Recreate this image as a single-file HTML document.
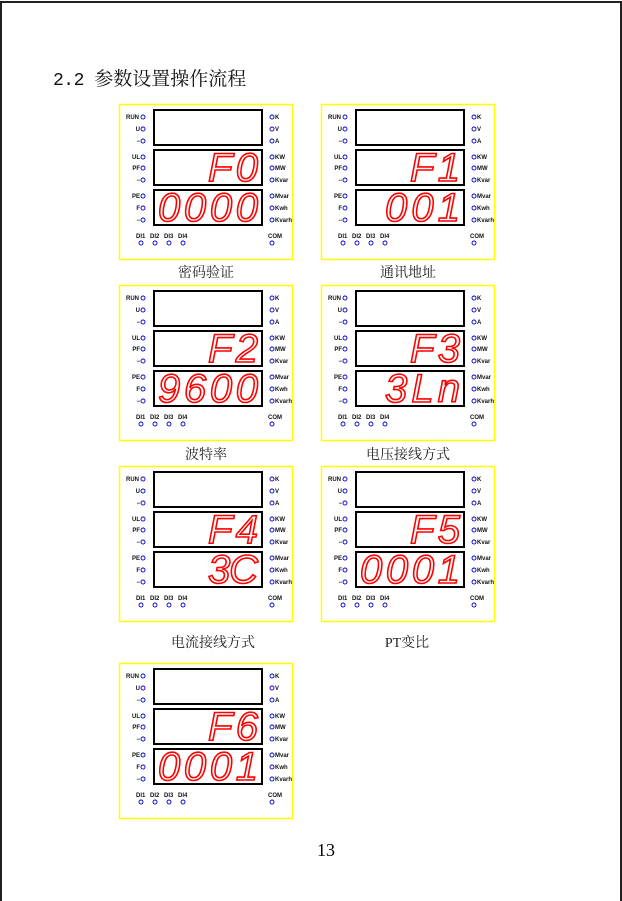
<!DOCTYPE html>
<html><head><meta charset="utf-8"><style>
html,body{margin:0;padding:0;background:#fff;width:622px;height:901px;overflow:hidden;}
body{position:relative;}
.frame{position:absolute;left:0;top:1px;width:618px;height:900px;border:2px solid #222;border-bottom:none;}
.title{position:absolute;left:53px;top:64px;font:19px "Liberation Serif","Noto Serif CJK SC",serif;color:#111;}
.title span{font-family:"Liberation Mono",monospace;font-size:18px;letter-spacing:-0.5px;}
.cap{position:absolute;width:180px;text-align:center;font:14px "Liberation Serif","Noto Serif CJK SC",serif;color:#222;}
svg.p{position:absolute;width:176px;height:158px;}
svg text{font-family:"Liberation Sans",sans-serif;}
.l{font-size:6px;font-weight:bold;fill:#111;}
.d{font-family:"Liberation Sans",sans-serif;font-size:40px;fill:none;stroke:#f00;stroke-width:1.6;font-style:italic;}
.pg{position:absolute;left:317px;top:840px;font:18px "Liberation Serif",serif;}
</style></head><body>
<div class="frame"></div>
<div class="title"><span>2.2 </span>参数设置操作流程</div>

<svg class="p" style="left:118px;top:103px" viewBox="0 0 176 158">
<rect x="1.5" y="1.5" width="173" height="155" fill="none" stroke="#ff0" stroke-width="1.5"/>
<rect x="36" y="7" width="108" height="35" fill="none" stroke="#000" stroke-width="2"/>
<rect x="36" y="47" width="108" height="35" fill="none" stroke="#000" stroke-width="2"/>
<rect x="36" y="87" width="108" height="35" fill="none" stroke="#000" stroke-width="2"/>
<g fill="none" stroke="#00c" stroke-width="0.9"><circle cx="25" cy="14" r="2"/><circle cx="25" cy="26" r="2"/><circle cx="25" cy="38" r="2"/><circle cx="25" cy="54" r="2"/><circle cx="25" cy="65" r="2"/><circle cx="25" cy="77" r="2"/><circle cx="25" cy="93" r="2"/><circle cx="25" cy="105" r="2"/><circle cx="25" cy="117" r="2"/><circle cx="154" cy="14" r="2"/><circle cx="154" cy="26" r="2"/><circle cx="154" cy="38" r="2"/><circle cx="154" cy="54" r="2"/><circle cx="154" cy="65" r="2"/><circle cx="154" cy="77" r="2"/><circle cx="154" cy="93" r="2"/><circle cx="154" cy="105" r="2"/><circle cx="154" cy="117" r="2"/><circle cx="23" cy="140" r="2"/><circle cx="37" cy="140" r="2"/><circle cx="51" cy="140" r="2"/><circle cx="65" cy="140" r="2"/><circle cx="154" cy="140" r="2"/></g>
<g class="l" text-anchor="end"><text x="21" y="16">RUN</text><text x="22" y="28">U</text><text x="22" y="40">−</text><text x="22" y="56">UL</text><text x="22" y="67">PF</text><text x="22" y="79">−</text><text x="22" y="95">PE</text><text x="22" y="107">F</text><text x="22" y="119">−</text></g>
<g class="l"><text x="157" y="16">K</text><text x="157" y="28">V</text><text x="157" y="40">A</text><text x="157" y="56">KW</text><text x="157" y="67">MW</text><text x="157" y="79">Kvar</text><text x="157" y="95">Mvar</text><text x="157" y="107">Kwh</text><text x="157" y="119">Kvarh</text><text x="18" y="135">DI1</text><text x="32" y="135">DI2</text><text x="46" y="135">DI3</text><text x="60" y="135">DI4</text><text x="150" y="135">COM</text></g>
<text class="d" x="140" y="78" text-anchor="end" textLength="50" lengthAdjust="spacing">F0</text>
<text class="d" x="140" y="118" text-anchor="end" textLength="100" lengthAdjust="spacing">0000</text>
</svg>
<div class="cap" style="left:116px;top:262px">密码验证</div>

<svg class="p" style="left:320px;top:103px" viewBox="0 0 176 158">
<rect x="1.5" y="1.5" width="173" height="155" fill="none" stroke="#ff0" stroke-width="1.5"/>
<rect x="36" y="7" width="108" height="35" fill="none" stroke="#000" stroke-width="2"/>
<rect x="36" y="47" width="108" height="35" fill="none" stroke="#000" stroke-width="2"/>
<rect x="36" y="87" width="108" height="35" fill="none" stroke="#000" stroke-width="2"/>
<g fill="none" stroke="#00c" stroke-width="0.9"><circle cx="25" cy="14" r="2"/><circle cx="25" cy="26" r="2"/><circle cx="25" cy="38" r="2"/><circle cx="25" cy="54" r="2"/><circle cx="25" cy="65" r="2"/><circle cx="25" cy="77" r="2"/><circle cx="25" cy="93" r="2"/><circle cx="25" cy="105" r="2"/><circle cx="25" cy="117" r="2"/><circle cx="154" cy="14" r="2"/><circle cx="154" cy="26" r="2"/><circle cx="154" cy="38" r="2"/><circle cx="154" cy="54" r="2"/><circle cx="154" cy="65" r="2"/><circle cx="154" cy="77" r="2"/><circle cx="154" cy="93" r="2"/><circle cx="154" cy="105" r="2"/><circle cx="154" cy="117" r="2"/><circle cx="23" cy="140" r="2"/><circle cx="37" cy="140" r="2"/><circle cx="51" cy="140" r="2"/><circle cx="65" cy="140" r="2"/><circle cx="154" cy="140" r="2"/></g>
<g class="l" text-anchor="end"><text x="21" y="16">RUN</text><text x="22" y="28">U</text><text x="22" y="40">−</text><text x="22" y="56">UL</text><text x="22" y="67">PF</text><text x="22" y="79">−</text><text x="22" y="95">PE</text><text x="22" y="107">F</text><text x="22" y="119">−</text></g>
<g class="l"><text x="157" y="16">K</text><text x="157" y="28">V</text><text x="157" y="40">A</text><text x="157" y="56">KW</text><text x="157" y="67">MW</text><text x="157" y="79">Kvar</text><text x="157" y="95">Mvar</text><text x="157" y="107">Kwh</text><text x="157" y="119">Kvarh</text><text x="18" y="135">DI1</text><text x="32" y="135">DI2</text><text x="46" y="135">DI3</text><text x="60" y="135">DI4</text><text x="150" y="135">COM</text></g>
<text class="d" x="140" y="78" text-anchor="end" textLength="50" lengthAdjust="spacing">F1</text>
<text class="d" x="140" y="118" text-anchor="end" textLength="75" lengthAdjust="spacing">001</text>
</svg>
<div class="cap" style="left:318px;top:262px">通讯地址</div>

<svg class="p" style="left:118px;top:284px" viewBox="0 0 176 158">
<rect x="1.5" y="1.5" width="173" height="155" fill="none" stroke="#ff0" stroke-width="1.5"/>
<rect x="36" y="7" width="108" height="35" fill="none" stroke="#000" stroke-width="2"/>
<rect x="36" y="47" width="108" height="35" fill="none" stroke="#000" stroke-width="2"/>
<rect x="36" y="87" width="108" height="35" fill="none" stroke="#000" stroke-width="2"/>
<g fill="none" stroke="#00c" stroke-width="0.9"><circle cx="25" cy="14" r="2"/><circle cx="25" cy="26" r="2"/><circle cx="25" cy="38" r="2"/><circle cx="25" cy="54" r="2"/><circle cx="25" cy="65" r="2"/><circle cx="25" cy="77" r="2"/><circle cx="25" cy="93" r="2"/><circle cx="25" cy="105" r="2"/><circle cx="25" cy="117" r="2"/><circle cx="154" cy="14" r="2"/><circle cx="154" cy="26" r="2"/><circle cx="154" cy="38" r="2"/><circle cx="154" cy="54" r="2"/><circle cx="154" cy="65" r="2"/><circle cx="154" cy="77" r="2"/><circle cx="154" cy="93" r="2"/><circle cx="154" cy="105" r="2"/><circle cx="154" cy="117" r="2"/><circle cx="23" cy="140" r="2"/><circle cx="37" cy="140" r="2"/><circle cx="51" cy="140" r="2"/><circle cx="65" cy="140" r="2"/><circle cx="154" cy="140" r="2"/></g>
<g class="l" text-anchor="end"><text x="21" y="16">RUN</text><text x="22" y="28">U</text><text x="22" y="40">−</text><text x="22" y="56">UL</text><text x="22" y="67">PF</text><text x="22" y="79">−</text><text x="22" y="95">PE</text><text x="22" y="107">F</text><text x="22" y="119">−</text></g>
<g class="l"><text x="157" y="16">K</text><text x="157" y="28">V</text><text x="157" y="40">A</text><text x="157" y="56">KW</text><text x="157" y="67">MW</text><text x="157" y="79">Kvar</text><text x="157" y="95">Mvar</text><text x="157" y="107">Kwh</text><text x="157" y="119">Kvarh</text><text x="18" y="135">DI1</text><text x="32" y="135">DI2</text><text x="46" y="135">DI3</text><text x="60" y="135">DI4</text><text x="150" y="135">COM</text></g>
<text class="d" x="140" y="78" text-anchor="end" textLength="50" lengthAdjust="spacing">F2</text>
<text class="d" x="140" y="118" text-anchor="end" textLength="100" lengthAdjust="spacing">9600</text>
</svg>
<div class="cap" style="left:116px;top:444px">波特率</div>

<svg class="p" style="left:320px;top:284px" viewBox="0 0 176 158">
<rect x="1.5" y="1.5" width="173" height="155" fill="none" stroke="#ff0" stroke-width="1.5"/>
<rect x="36" y="7" width="108" height="35" fill="none" stroke="#000" stroke-width="2"/>
<rect x="36" y="47" width="108" height="35" fill="none" stroke="#000" stroke-width="2"/>
<rect x="36" y="87" width="108" height="35" fill="none" stroke="#000" stroke-width="2"/>
<g fill="none" stroke="#00c" stroke-width="0.9"><circle cx="25" cy="14" r="2"/><circle cx="25" cy="26" r="2"/><circle cx="25" cy="38" r="2"/><circle cx="25" cy="54" r="2"/><circle cx="25" cy="65" r="2"/><circle cx="25" cy="77" r="2"/><circle cx="25" cy="93" r="2"/><circle cx="25" cy="105" r="2"/><circle cx="25" cy="117" r="2"/><circle cx="154" cy="14" r="2"/><circle cx="154" cy="26" r="2"/><circle cx="154" cy="38" r="2"/><circle cx="154" cy="54" r="2"/><circle cx="154" cy="65" r="2"/><circle cx="154" cy="77" r="2"/><circle cx="154" cy="93" r="2"/><circle cx="154" cy="105" r="2"/><circle cx="154" cy="117" r="2"/><circle cx="23" cy="140" r="2"/><circle cx="37" cy="140" r="2"/><circle cx="51" cy="140" r="2"/><circle cx="65" cy="140" r="2"/><circle cx="154" cy="140" r="2"/></g>
<g class="l" text-anchor="end"><text x="21" y="16">RUN</text><text x="22" y="28">U</text><text x="22" y="40">−</text><text x="22" y="56">UL</text><text x="22" y="67">PF</text><text x="22" y="79">−</text><text x="22" y="95">PE</text><text x="22" y="107">F</text><text x="22" y="119">−</text></g>
<g class="l"><text x="157" y="16">K</text><text x="157" y="28">V</text><text x="157" y="40">A</text><text x="157" y="56">KW</text><text x="157" y="67">MW</text><text x="157" y="79">Kvar</text><text x="157" y="95">Mvar</text><text x="157" y="107">Kwh</text><text x="157" y="119">Kvarh</text><text x="18" y="135">DI1</text><text x="32" y="135">DI2</text><text x="46" y="135">DI3</text><text x="60" y="135">DI4</text><text x="150" y="135">COM</text></g>
<text class="d" x="140" y="78" text-anchor="end" textLength="50" lengthAdjust="spacing">F3</text>
<text class="d" x="140" y="118" text-anchor="end" textLength="75" lengthAdjust="spacing">3Ln</text>
</svg>
<div class="cap" style="left:318px;top:444px">电压接线方式</div>

<svg class="p" style="left:118px;top:465px" viewBox="0 0 176 158">
<rect x="1.5" y="1.5" width="173" height="155" fill="none" stroke="#ff0" stroke-width="1.5"/>
<rect x="36" y="7" width="108" height="35" fill="none" stroke="#000" stroke-width="2"/>
<rect x="36" y="47" width="108" height="35" fill="none" stroke="#000" stroke-width="2"/>
<rect x="36" y="87" width="108" height="35" fill="none" stroke="#000" stroke-width="2"/>
<g fill="none" stroke="#00c" stroke-width="0.9"><circle cx="25" cy="14" r="2"/><circle cx="25" cy="26" r="2"/><circle cx="25" cy="38" r="2"/><circle cx="25" cy="54" r="2"/><circle cx="25" cy="65" r="2"/><circle cx="25" cy="77" r="2"/><circle cx="25" cy="93" r="2"/><circle cx="25" cy="105" r="2"/><circle cx="25" cy="117" r="2"/><circle cx="154" cy="14" r="2"/><circle cx="154" cy="26" r="2"/><circle cx="154" cy="38" r="2"/><circle cx="154" cy="54" r="2"/><circle cx="154" cy="65" r="2"/><circle cx="154" cy="77" r="2"/><circle cx="154" cy="93" r="2"/><circle cx="154" cy="105" r="2"/><circle cx="154" cy="117" r="2"/><circle cx="23" cy="140" r="2"/><circle cx="37" cy="140" r="2"/><circle cx="51" cy="140" r="2"/><circle cx="65" cy="140" r="2"/><circle cx="154" cy="140" r="2"/></g>
<g class="l" text-anchor="end"><text x="21" y="16">RUN</text><text x="22" y="28">U</text><text x="22" y="40">−</text><text x="22" y="56">UL</text><text x="22" y="67">PF</text><text x="22" y="79">−</text><text x="22" y="95">PE</text><text x="22" y="107">F</text><text x="22" y="119">−</text></g>
<g class="l"><text x="157" y="16">K</text><text x="157" y="28">V</text><text x="157" y="40">A</text><text x="157" y="56">KW</text><text x="157" y="67">MW</text><text x="157" y="79">Kvar</text><text x="157" y="95">Mvar</text><text x="157" y="107">Kwh</text><text x="157" y="119">Kvarh</text><text x="18" y="135">DI1</text><text x="32" y="135">DI2</text><text x="46" y="135">DI3</text><text x="60" y="135">DI4</text><text x="150" y="135">COM</text></g>
<text class="d" x="140" y="78" text-anchor="end" textLength="50" lengthAdjust="spacing">F4</text>
<text class="d" x="140" y="118" text-anchor="end" textLength="50" lengthAdjust="spacing">3C</text>
</svg>
<div class="cap" style="left:123px;top:632px">电流接线方式</div>

<svg class="p" style="left:320px;top:465px" viewBox="0 0 176 158">
<rect x="1.5" y="1.5" width="173" height="155" fill="none" stroke="#ff0" stroke-width="1.5"/>
<rect x="36" y="7" width="108" height="35" fill="none" stroke="#000" stroke-width="2"/>
<rect x="36" y="47" width="108" height="35" fill="none" stroke="#000" stroke-width="2"/>
<rect x="36" y="87" width="108" height="35" fill="none" stroke="#000" stroke-width="2"/>
<g fill="none" stroke="#00c" stroke-width="0.9"><circle cx="25" cy="14" r="2"/><circle cx="25" cy="26" r="2"/><circle cx="25" cy="38" r="2"/><circle cx="25" cy="54" r="2"/><circle cx="25" cy="65" r="2"/><circle cx="25" cy="77" r="2"/><circle cx="25" cy="93" r="2"/><circle cx="25" cy="105" r="2"/><circle cx="25" cy="117" r="2"/><circle cx="154" cy="14" r="2"/><circle cx="154" cy="26" r="2"/><circle cx="154" cy="38" r="2"/><circle cx="154" cy="54" r="2"/><circle cx="154" cy="65" r="2"/><circle cx="154" cy="77" r="2"/><circle cx="154" cy="93" r="2"/><circle cx="154" cy="105" r="2"/><circle cx="154" cy="117" r="2"/><circle cx="23" cy="140" r="2"/><circle cx="37" cy="140" r="2"/><circle cx="51" cy="140" r="2"/><circle cx="65" cy="140" r="2"/><circle cx="154" cy="140" r="2"/></g>
<g class="l" text-anchor="end"><text x="21" y="16">RUN</text><text x="22" y="28">U</text><text x="22" y="40">−</text><text x="22" y="56">UL</text><text x="22" y="67">PF</text><text x="22" y="79">−</text><text x="22" y="95">PE</text><text x="22" y="107">F</text><text x="22" y="119">−</text></g>
<g class="l"><text x="157" y="16">K</text><text x="157" y="28">V</text><text x="157" y="40">A</text><text x="157" y="56">KW</text><text x="157" y="67">MW</text><text x="157" y="79">Kvar</text><text x="157" y="95">Mvar</text><text x="157" y="107">Kwh</text><text x="157" y="119">Kvarh</text><text x="18" y="135">DI1</text><text x="32" y="135">DI2</text><text x="46" y="135">DI3</text><text x="60" y="135">DI4</text><text x="150" y="135">COM</text></g>
<text class="d" x="140" y="78" text-anchor="end" textLength="50" lengthAdjust="spacing">F5</text>
<text class="d" x="140" y="118" text-anchor="end" textLength="100" lengthAdjust="spacing">0001</text>
</svg>
<div class="cap" style="left:317px;top:632px">PT变比</div>

<svg class="p" style="left:118px;top:662px" viewBox="0 0 176 158">
<rect x="1.5" y="1.5" width="173" height="155" fill="none" stroke="#ff0" stroke-width="1.5"/>
<rect x="36" y="7" width="108" height="35" fill="none" stroke="#000" stroke-width="2"/>
<rect x="36" y="47" width="108" height="35" fill="none" stroke="#000" stroke-width="2"/>
<rect x="36" y="87" width="108" height="35" fill="none" stroke="#000" stroke-width="2"/>
<g fill="none" stroke="#00c" stroke-width="0.9"><circle cx="25" cy="14" r="2"/><circle cx="25" cy="26" r="2"/><circle cx="25" cy="38" r="2"/><circle cx="25" cy="54" r="2"/><circle cx="25" cy="65" r="2"/><circle cx="25" cy="77" r="2"/><circle cx="25" cy="93" r="2"/><circle cx="25" cy="105" r="2"/><circle cx="25" cy="117" r="2"/><circle cx="154" cy="14" r="2"/><circle cx="154" cy="26" r="2"/><circle cx="154" cy="38" r="2"/><circle cx="154" cy="54" r="2"/><circle cx="154" cy="65" r="2"/><circle cx="154" cy="77" r="2"/><circle cx="154" cy="93" r="2"/><circle cx="154" cy="105" r="2"/><circle cx="154" cy="117" r="2"/><circle cx="23" cy="140" r="2"/><circle cx="37" cy="140" r="2"/><circle cx="51" cy="140" r="2"/><circle cx="65" cy="140" r="2"/><circle cx="154" cy="140" r="2"/></g>
<g class="l" text-anchor="end"><text x="21" y="16">RUN</text><text x="22" y="28">U</text><text x="22" y="40">−</text><text x="22" y="56">UL</text><text x="22" y="67">PF</text><text x="22" y="79">−</text><text x="22" y="95">PE</text><text x="22" y="107">F</text><text x="22" y="119">−</text></g>
<g class="l"><text x="157" y="16">K</text><text x="157" y="28">V</text><text x="157" y="40">A</text><text x="157" y="56">KW</text><text x="157" y="67">MW</text><text x="157" y="79">Kvar</text><text x="157" y="95">Mvar</text><text x="157" y="107">Kwh</text><text x="157" y="119">Kvarh</text><text x="18" y="135">DI1</text><text x="32" y="135">DI2</text><text x="46" y="135">DI3</text><text x="60" y="135">DI4</text><text x="150" y="135">COM</text></g>
<text class="d" x="140" y="78" text-anchor="end" textLength="50" lengthAdjust="spacing">F6</text>
<text class="d" x="140" y="118" text-anchor="end" textLength="100" lengthAdjust="spacing">0001</text>
</svg>

<div class="pg">13</div>
</body></html>
